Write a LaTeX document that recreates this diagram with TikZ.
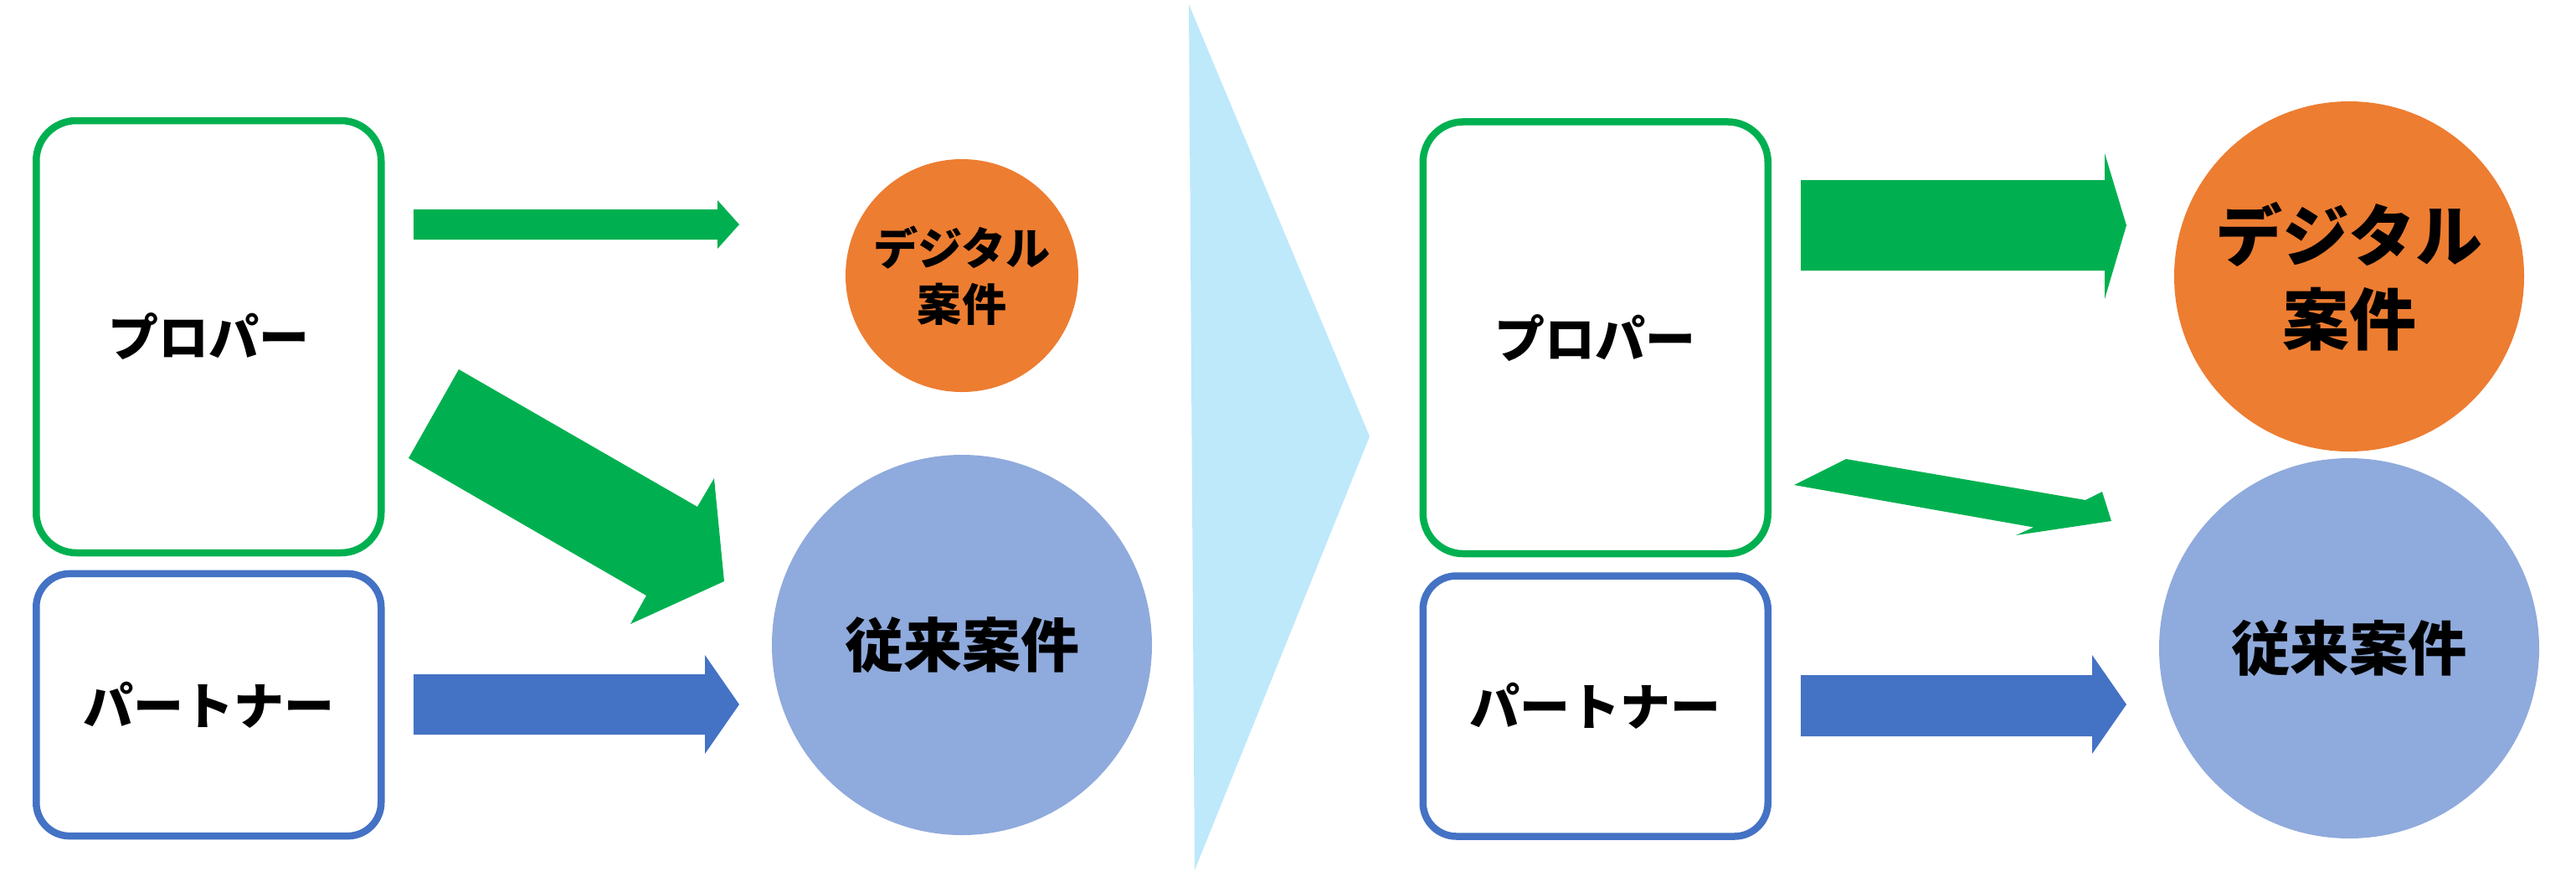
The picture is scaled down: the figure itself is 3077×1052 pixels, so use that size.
\documentclass[tikz,border=0pt]{standalone}
\usepackage{fontspec}
\newfontfamily\jp{Noto Sans CJK JP}
\definecolor{cgreen}{HTML}{00B050}
\definecolor{cblue}{HTML}{4472C4}
\definecolor{corange}{HTML}{ED7D31}
\definecolor{clblue}{HTML}{8FAADC}
\definecolor{ctri}{HTML}{BEE9FB}
\tikzset{
  boxg/.style={draw=cgreen, line width=2.125pt, fill=white, rounded corners=12pt, inner sep=0pt, minimum width=103pt, minimum height=129pt, font=\jp\bfseries\fontsize{15}{18}\selectfont},
  boxb/.style={draw=cblue, line width=2.125pt, fill=white, rounded corners=10pt, inner sep=0pt, minimum width=103pt, minimum height=78.3pt, font=\jp\bfseries\fontsize{15}{18}\selectfont},
  circ/.style={circle, inner sep=0pt, align=center},
  arrg/.style={fill=cgreen},
  arrb/.style={fill=cblue}
}
\begin{document}
\begin{tikzpicture}[x=0.25pt, y=-0.25pt]
\useasboundingbox (0,0) rectangle (3077,1052);
% chevron triangle
\fill[ctri] (1420,5) -- (1636,521) -- (1427,1039) -- cycle;

% ---- left side ----
\node[boxg] (propaL) at (249.25,402) {プロパー};
\node[boxb] (partnerL) at (249.25,841.5) {パートナー};
\node[circ, fill=corange, minimum size=69.5pt, font=\jp\bfseries\fontsize{13.3}{16.75}\selectfont] (digL) at (1149,329) {デジタル\\案件};
\node[circ, fill=clblue, minimum size=113.5pt, font=\jp\bfseries\fontsize{17.5}{20}\selectfont] (oldL) at (1149,770) {従来案件};

\fill[arrg] (494,250) -- (857,250) -- (857,239) -- (883,268) -- (857,297) -- (857,286) -- (494,286) -- cycle;
\fill[arrg] (548,441) -- (833,605) -- (853,571) -- (865,694) -- (753,745) -- (772,711) -- (488,547) -- cycle;
\fill[arrb] (494,805) -- (842,805) -- (842,782) -- (883,841) -- (842,900) -- (842,877) -- (494,877) -- cycle;

% ---- right side ----
\node[boxg, minimum height=128.9pt] (propaR) at (1905.75,403.25) {プロパー};
\node[boxb, minimum height=77.75pt] (partnerR) at (1905.75,843) {パートナー};
\node[circ, fill=corange, minimum size=104.5pt, font=\jp\bfseries\fontsize{20}{25}\selectfont] (digR) at (2806,330) {デジタル\\案件};
\node[circ, fill=clblue, minimum size=113.5pt, font=\jp\bfseries\fontsize{17.6}{20}\selectfont] (oldR) at (2806,774) {従来案件};

\fill[arrg] (2151,215) -- (2514,215) -- (2514,183) -- (2540,269) -- (2514,357) -- (2514,323) -- (2151,323) -- cycle;
\fill[arrg] (2205,548) -- (2491,597) -- (2511,587) -- (2522,622) -- (2408,639) -- (2429,629.5) -- (2143,579) -- cycle;
\fill[arrb] (2151,806) -- (2499,806) -- (2499,782) -- (2540,841) -- (2499,900) -- (2499,879) -- (2151,879) -- cycle;
\end{tikzpicture}
\end{document}
